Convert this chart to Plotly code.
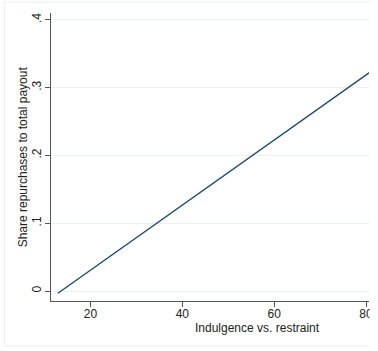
import plotly.graph_objects as go

# Data (fitted line)
x_vals = [12.9, 81.0]
y_vals = [-0.0034, 0.3234]

x_ticks = [20, 40, 60, 80]
x_labels = ["20", "40", "60", "80"]
y_ticks = [0, 0.1, 0.2, 0.3, 0.4]
y_labels = ["0", ".1", ".2", ".3", ".4"]

W, H = 378, 351
L, R, T, B = 51, 373, 13, 301
pw, ph = R - L, B - T


def px(xp):
    return (xp - L) / pw


def py(yp):
    return (B - yp) / ph


fig = go.Figure()
fig.add_trace(go.Scatter(x=x_vals, y=y_vals, mode="lines",
                         line=dict(color="#1a476f", width=1.3),
                         showlegend=False, hoverinfo="skip"))

axis_font = dict(family="Liberation Sans, Arial", size=12, color="#222")

fig.update_layout(
    width=W, height=H,
    margin=dict(l=L, r=W - R, t=T, b=H - B),
    paper_bgcolor="white", plot_bgcolor="white",
    font=axis_font,
    xaxis=dict(range=[11.4, 80.65], tickvals=x_ticks, ticktext=x_labels,
               showgrid=False, zeroline=False, showline=True,
               linecolor="#555", linewidth=1.3, ticks="outside",
               ticklen=5, tickcolor="#555", tickwidth=1.2,
               ticklabelstandoff=-4, tickfont=axis_font),
    yaxis=dict(range=[-0.01475, 0.41], tickvals=y_ticks, ticktext=y_labels,
               showgrid=True, gridcolor="#eaf2f3", gridwidth=1,
               zeroline=False, showline=True, linecolor="#555",
               linewidth=1.3, ticks="outside", ticklen=5, tickcolor="#555",
               tickwidth=1.2, tickangle=-90, ticklabelstandoff=-1,
               tickfont=axis_font),
    annotations=[
        dict(text="Indulgence vs. restraint", xref="paper", yref="paper",
             x=px(260.5), y=py(328), showarrow=False, font=axis_font,
             xanchor="center", yanchor="middle"),
        dict(text="Share repurchases to total payout", xref="paper",
             yref="paper", x=px(23), y=py(157), showarrow=False,
             textangle=-90, font=axis_font, xanchor="center",
             yanchor="middle"),
    ],
    shapes=[
        dict(type="rect", xref="paper", yref="paper", x0=px(4), x1=px(400),
             y0=py(346), y1=py(2), line=dict(color="#e8eff0", width=1),
             fillcolor="rgba(0,0,0,0)", layer="below"),
        dict(type="rect", xref="paper", yref="paper", x0=px(373.5),
             x1=px(400), y0=py(360), y1=py(-10), line=dict(width=0),
             fillcolor="white", layer="above"),
    ],
)

fig.write_html("out.html")
